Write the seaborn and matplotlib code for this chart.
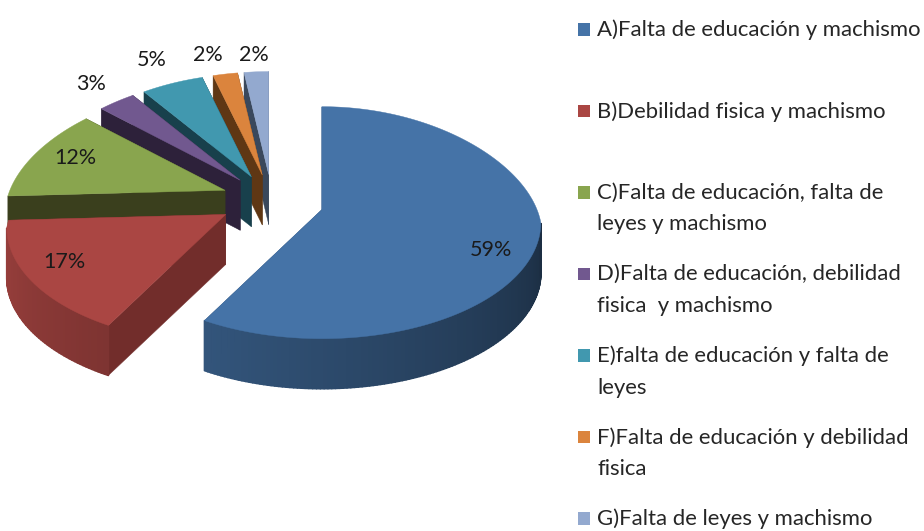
import numpy as np
import pandas as pd
import matplotlib
matplotlib.use("Agg")
import matplotlib.pyplot as plt
import matplotlib.colors as mcolors
from matplotlib.collections import PolyCollection
import seaborn as sns

categories = ["A)Falta de educación y machismo",
              "B)Debilidad fisica y machismo",
              "C)Falta de educación, falta de\nleyes y machismo",
              "D)Falta de educación, debilidad\nfisica  y machismo",
              "E)falta de educación y falta de\nleyes",
              "F)Falta de educación y debilidad\nfisica",
              "G)Falta de leyes y machismo"]
values = [59, 17, 12, 3, 5, 2, 2]
top_colors = ["#4573A7", "#AA4643", "#89A54E", "#71588F", "#4198AF", "#DB843D", "#93A9CF"]
cut_colors = ["#2B4A70", "#722D2B", "#3A3F1D", "#2D213A", "#18404C", "#5F3714", "#3A485C"]

# pixel geometry of the picture
W, H = 924, 531
CX, CY = 272, 202
RX, RY = 219, 116
DEPTH = 50 / RY
EXPLODE = 0.237
# fake perspective: far side of the rim is narrower and sits lower
TILT_Y = 13 / RY
TILT_X = 0.1

# where the percent labels sit, in pixels
label_x = [491, 64, 75, 91, 152, 208, 254]
label_y = [250, 262, 158, 84, 60, 55, 55]


def wall_shade(angle):
    # outer wall goes darker from left to right
    return np.clip(0.9 - 0.5 * (angle - 180) / 180, 0.35, 0.9)


def rim(center, angle):
    t = np.radians(angle)
    x = np.cos(t) * (1 - TILT_X * np.maximum(np.sin(t), 0))
    return center[0] + x, center[1] + np.sin(t) - TILT_Y


def draw_slice(ax, wedge, i):
    z = 10 * (len(values) - i)
    a1, a2 = wedge.theta1, wedge.theta2
    c = wedge.center
    angles = np.append(np.arange(a1, a2, 1.0), a2)
    xs, ys = rim(c, angles)

    # the two cut faces
    for k in (0, -1):
        ax.fill([c[0], xs[k], xs[k], c[0]],
                [c[1], ys[k], ys[k] - DEPTH, c[1] - DEPTH],
                color=cut_colors[i], linewidth=0.3, zorder=z)

    # outer wall, only the front half of the slice can be seen
    polys, cols = [], []
    for j in range(len(angles) - 1):
        mid = (angles[j] + angles[j + 1]) / 2 % 360
        if mid < 180:
            continue
        polys.append([(xs[j], ys[j]), (xs[j + 1], ys[j + 1]),
                      (xs[j + 1], ys[j + 1] - DEPTH), (xs[j], ys[j] - DEPTH)])
        cols.append(np.array(mcolors.to_rgb(top_colors[i])) * wall_shade(mid))
    if polys:
        # thick same colour edges hide the seams between the strips
        ax.add_collection(PolyCollection(polys, facecolors=cols, edgecolors=cols,
                                         linewidths=1.2, zorder=z + 1))

    ax.fill(np.append(c[0], xs), np.append(c[1], ys), color=top_colors[i],
            linewidth=0.3, zorder=z + 2)


def draw_pie(ax):
    # pie gives the angles and exploded centers, slices are redrawn with depth
    wedges, _ = ax.pie(values, explode=[EXPLODE] * len(values), startangle=90,
                       counterclock=False, colors=sns.color_palette(top_colors),
                       wedgeprops={"linewidth": 0})
    for i, w in enumerate(wedges):
        draw_slice(ax, w, i)
        w.set_visible(False)
    ax.set_aspect("auto")
    ax.set_xlim(-CX / RX, (W - CX) / RX)
    ax.set_ylim((CY - H) / RY, CY / RY)
    ax.axis("off")


def draw_text(ax):
    for v, x, y in zip(values, label_x, label_y):
        ax.text(x, y, f"{v}%", ha="center", va="center", fontsize=15.5, color="#1a1a1a")

    # legend is spaced evenly by first line, so it is placed by hand
    legend_y = [29.5 + 81.5 * i for i in range(len(categories))]
    df = pd.DataFrame({"x": [584] * len(categories), "y": legend_y, "cat": categories})
    sns.scatterplot(data=df, x="x", y="y", hue="cat", palette=top_colors, marker="s",
                    s=81, linewidth=0, legend=False, ax=ax)
    for cat, y in zip(categories, legend_y):
        two_lines = "\n" in cat
        ax.text(597, y - 10 if two_lines else y + 0.5, cat, ha="left",
                va="top" if two_lines else "center", fontsize=15.9,
                color="#262626", linespacing=1.72)
    ax.set_xlim(0, W)
    ax.set_ylim(H, 0)
    ax.axis("off")


def main():
    sns.set_theme(style="white")
    plt.rcParams["font.family"] = ["Lato", "DejaVu Sans"]
    fig = plt.figure(figsize=(W / 100, H / 100), dpi=100)
    pie_ax = fig.add_axes([0, 0, 1, 1])
    text_ax = fig.add_axes([0, 0, 1, 1])
    text_ax.patch.set_alpha(0)
    draw_pie(pie_ax)
    draw_text(text_ax)
    fig.savefig("out.png", dpi=100)
    plt.close()


main()
